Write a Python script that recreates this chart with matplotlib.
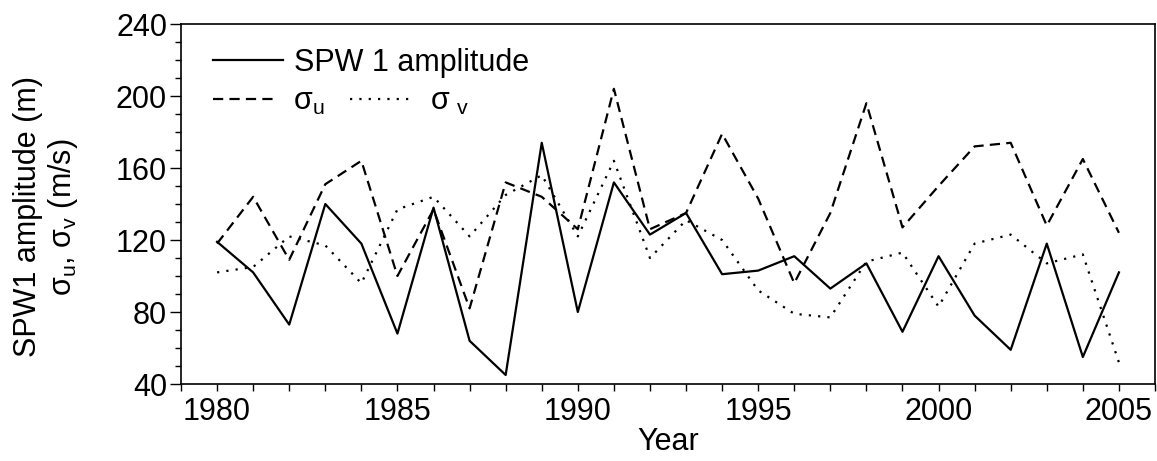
import matplotlib
matplotlib.use('Agg')
import matplotlib.pyplot as plt
from matplotlib.ticker import MultipleLocator

plt.rcParams['font.family'] = ['Liberation Sans', 'DejaVu Sans']
plt.rcParams['mathtext.fontset'] = 'custom'
plt.rcParams['mathtext.rm'] = 'Liberation Sans'

# values
years = [1980, 1981, 1982, 1983, 1984, 1985, 1986, 1987, 1988, 1989, 1990, 1991, 1992,
         1993, 1994, 1995, 1996, 1997, 1998, 1999, 2000, 2001, 2002, 2003, 2004, 2005]
spw1 = [119, 102, 73, 140, 118, 68, 138, 64, 45, 174, 80, 152, 123,
        135, 101, 103, 111, 93, 107, 69, 111, 78, 59, 118, 55, 102]
sigma_u = [118, 144, 109, 151, 164, 100, 137, 82, 152, 144, 126, 204, 126,
           135, 179, 143, 96, 135, 196, 127, 150, 172, 174, 128, 165, 124]
sigma_v = [102, 105, 122, 117, 96, 137, 144, 122, 145, 156, 122, 164, 110,
           131, 120, 92, 79, 77, 108, 113, 83, 118, 123, 107, 112, 52]

fs = 22
fig = plt.figure(figsize=(11.57, 4.61), dpi=100)
ax = fig.add_axes([181/1157, 1-384/461, 974/1157, 360/461])

l1, = ax.plot(years, spw1, color='black', lw=1.6, ls='-')
l2, = ax.plot(years, sigma_u, color='black', lw=1.6, ls=(0, (4.6, 2.8)))
l3, = ax.plot(years, sigma_v, color='black', lw=1.6, ls=(0, (1, 3.2)))

ax.set_xlim(1979, 2006)
ax.set_ylim(40, 240)
ax.xaxis.set_major_locator(MultipleLocator(5))
ax.xaxis.set_minor_locator(MultipleLocator(1))
ax.yaxis.set_major_locator(MultipleLocator(40))
ax.yaxis.set_minor_locator(MultipleLocator(10))
ax.tick_params(axis='both', which='both', direction='out', labelsize=fs, width=1, color='black')
ax.tick_params(axis='x', which='both', length=5, pad=4)
ax.tick_params(axis='y', which='major', length=8, pad=2)
ax.tick_params(axis='y', which='minor', length=4)
for s in ax.spines.values():
    s.set_linewidth(1.2)

ax.set_xlabel('Year', fontsize=fs, labelpad=0)
ax.set_ylabel('SPW1 amplitude (m)\nσ$_\\mathregular{u}$, σ$_\\mathregular{v}$ (m/s)',
              fontsize=fs, linespacing=1.1)
ax.yaxis.set_label_coords(-0.104, 0.464)

leg1 = ax.legend([l1], ['SPW 1 amplitude'], loc='center left', bbox_to_anchor=(0.033, 0.892),
                 frameon=False, fontsize=fs, borderpad=0, borderaxespad=0,
                 handlelength=2.3, handletextpad=0.36)
ax.add_artist(leg1)
ax.legend([l2, l3], ['σ$_\\mathregular{u}$', 'σ$_{\\ \\mathregular{v}}$'], loc='center left',
          bbox_to_anchor=(0.033, 0.783), ncol=2, frameon=False, fontsize=fs, borderpad=0,
          borderaxespad=0, handlelength=1.95, handletextpad=0.65, columnspacing=0.85)

fig.savefig('out.png', dpi=100)
